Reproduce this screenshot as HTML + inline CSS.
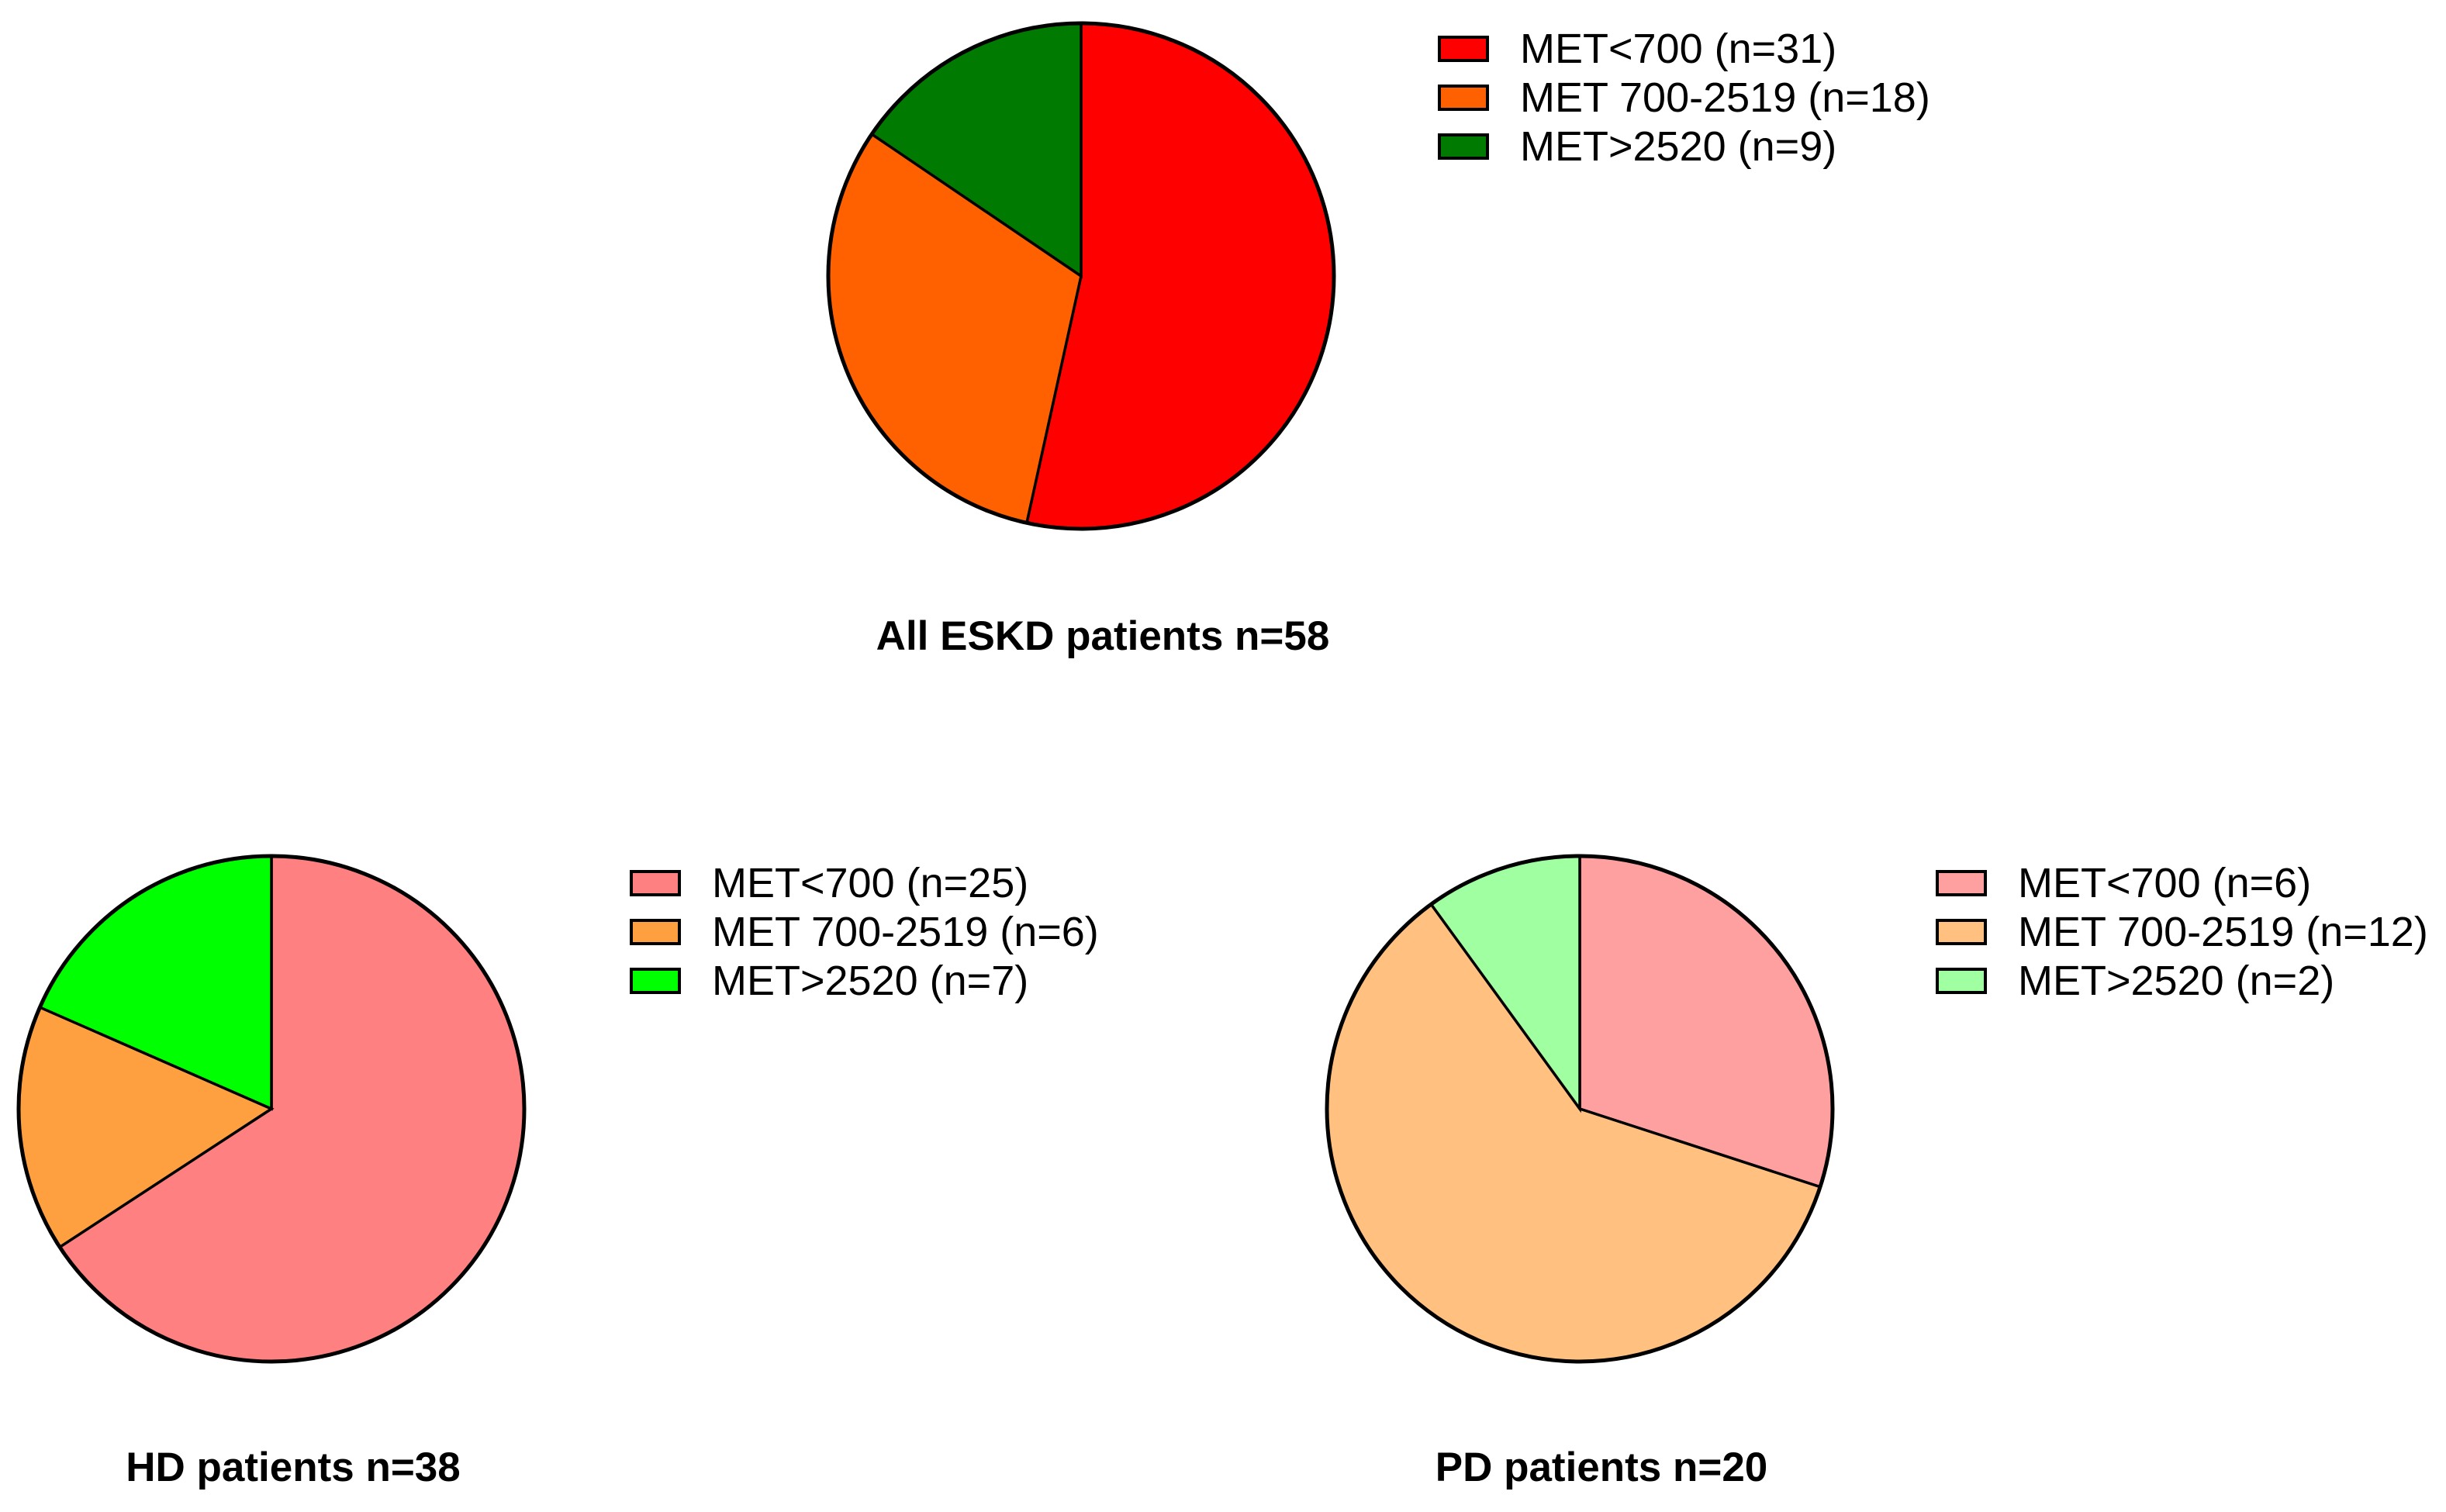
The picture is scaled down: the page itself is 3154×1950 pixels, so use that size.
<!DOCTYPE html>
<html><head><meta charset="utf-8">
<style>
html,body{margin:0;padding:0;background:#fff;}
svg{display:block;font-family:"Liberation Sans",Arial,sans-serif;}
</style></head>
<body>
<svg id="chart" width="3154" height="1950" viewBox="0 0 3154 1950" xmlns="http://www.w3.org/2000/svg"></svg>
<script>
const categories = ["MET<700", "MET 700-2519", "MET>2520"];
const allValues = [31, 18, 9];
const hdValues = [25, 6, 7];
const pdValues = [6, 12, 2];
const titles = ["All ESKD patients n=58", "HD patients n=38", "PD patients n=20"];

const NS = "http://www.w3.org/2000/svg";
const svg = document.getElementById("chart");
function mk(tag, attrs, parent){
  const e = document.createElementNS(NS, tag);
  for (const k in attrs) e.setAttribute(k, attrs[k]);
  (parent||svg).appendChild(e);
  return e;
}
const charts = [
  {id:"all", values:allValues, colors:["#ff0000","#ff6000","#007a00"], cx:1394, cy:356, r:326, lx:1856, ly:62, tx:1422, ty:838, title:titles[0]},
  {id:"hd", values:hdValues, colors:["#ff8080","#ffa040","#00ff00"], cx:350, cy:1430, r:326, lx:814, ly:1138, tx:378, ty:1910, title:titles[1]},
  {id:"pd", values:pdValues, colors:["#ffa0a0","#ffc080","#a0ffa0"], cx:2037, cy:1430, r:326, lx:2498, ly:1138, tx:2065, ty:1910, title:titles[2]}
];
charts.forEach(c=>{
  const g = mk("g", {});
  
  
  const total = c.values.reduce((a,b)=>a+b,0);
  let a0 = 0;
  c.values.forEach((v,i)=>{
    const a1 = a0 + v/total*2*Math.PI;
    const x0 = c.cx + c.r*Math.sin(a0), y0 = c.cy - c.r*Math.cos(a0);
    const x1 = c.cx + c.r*Math.sin(a1), y1 = c.cy - c.r*Math.cos(a1);
    const large = (a1-a0) > Math.PI ? 1 : 0;
    const p = mk("path", {d:`M${c.cx},${c.cy} L${x0},${y0} A${c.r},${c.r} 0 ${large} 1 ${x1},${y1} Z`, fill:c.colors[i], stroke:"#000", "stroke-width":3.5}, g);
    
    
    a0 = a1;
  });
  const circ = mk("circle", {cx:c.cx, cy:c.cy, r:c.r, fill:"none", stroke:"#000", "stroke-width":5}, g);
  
  
  const lg = mk("g", {});
  
  
  categories.forEach((cat,i)=>{
    const y = c.ly + i*63;
    const rect = mk("rect", {x:c.lx, y:y-14, width:62, height:30, fill:c.colors[i], stroke:"#000", "stroke-width":4}, lg);
    
    
    const t = mk("text", {x:c.lx+104, y:y+19, "font-size":54, fill:"#000"}, lg);
    t.textContent = cat + " (n=" + c.values[i] + ")";
    
    
  });
  const tt = mk("text", {x:c.tx, y:c.ty, "font-size":53, "font-weight":"bold", "text-anchor":"middle", fill:"#000"});
  tt.textContent = c.title;
  
  
});
</script>
</body></html>
